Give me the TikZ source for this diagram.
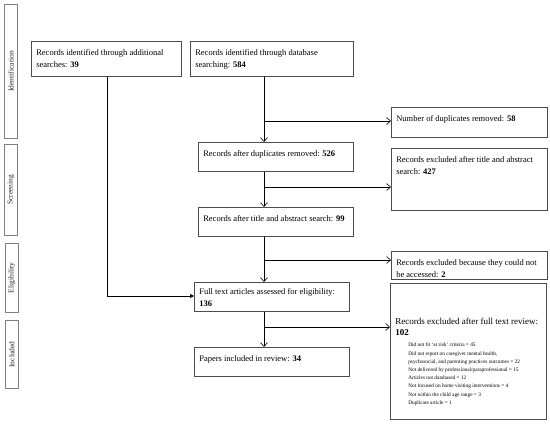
\documentclass[tikz,border=0pt]{standalone}
\usepackage{fontspec}
\setmainfont{Liberation Serif}
\usetikzlibrary{arrows.meta}
\newcommand\bx[7][8]{\node[box,anchor=north west,inner sep=0pt] (#2) at (#3pt,-#4pt) {\parbox[c][#6pt][t]{#5pt}{\vspace*{#1pt}\leftskip=5pt\rightskip=0pt plus 1fil\parindent=0pt #7}};}
\newcommand\side[6]{\node[sidebox,anchor=north west,minimum width=#4pt,minimum height=#5pt] (#1) at (#2pt,-#3pt) {};
\node[sidetext,rotate=90] (#1t) at (#1.center) {#6};}
\tikzset{
  box/.style={draw=black!70,line width=0.6pt,font=\fontsize{8.5}{12.5}\selectfont},
  sidebox/.style={draw=black!50,line width=0.8pt,inner sep=0pt},
  sidetext/.style={text=black!85,font=\fontsize{7.5}{9}\selectfont},
  arr/.style={line width=0.6pt,-{Straight Barb[length=4pt,width=7pt]}},
  farr/.style={line width=0.6pt,-{Triangle[length=4pt,width=4pt]}},
  ln/.style={line width=0.6pt}
}
\begin{document}
\begin{tikzpicture}
\fill[white] (0,0) rectangle (550pt,-424pt);
\useasboundingbox (0,0) rectangle (550pt,-424pt);
% side labels
\side{sid}{4}{4}{13}{134}{Identification}
\side{sscr}{4}{144}{13}{91}{Screening}
\side{selig}{5}{243}{13}{69}{Eligibility}
\side{sinc}{5}{320}{13}{68}{Included}
% boxes
\bx{a}{31}{41}{150}{35}{Records identified through additional\\searches: \textbf{39}}
\bx{b}{190}{41}{163}{35}{Records identified through database\\searching: \textbf{584}}
\bx{dup}{391}{107}{156}{30}{Number of duplicates removed: \textbf{58}}
\bx{c}{198}{142}{155}{29}{Records after duplicates removed: \textbf{526}}
\bx{ex1}{391}{148}{156}{62}{Records excluded after title and abstract\\search: \textbf{427}}
\bx{d}{198}{207}{155}{29}{Records after title and abstract search: \textbf{99}}
\bx{ex2}{391}{251}{156}{28}{Records excluded because they could not\\be accessed: \textbf{2}}
\bx[6]{e}{194}{282}{155}{29}{Full text articles assessed for eligibility:\\\textbf{136}}
\bx{f}{194}{347}{155}{29}{Papers included in review: \textbf{34}}
\bx[35]{ex3}{390}{283}{156}{136}{{\fontsize{9}{11}\selectfont Records excluded after full text review:\\\textbf{102}\par}
\vspace{3pt}
{\fontsize{5.3}{8.2}\selectfont\leftskip=18pt
Did not fit `at risk' criteria = 45\\
Did not report on caregiver mental health,\\
psychosocial, and parenting practices outcomes = 22\\
Not delivered by professional/paraprofessional = 15\\
Articles not databased = 12\\
Not focused on home visiting interventions = 4\\
Not within the child age range = 3\\
Duplicate article = 1\par}}
% junction coordinates
\coordinate (ja) at (107pt,-296pt);
\coordinate (j1) at (264pt,-121pt);
\coordinate (j2) at (264pt,-187pt);
\coordinate (j3) at (264pt,-260pt);
\coordinate (j4) at (264pt,-327pt);
% connectors
\draw[farr] (a.south -| ja) -- (ja) -- (e.west |- ja);
\draw[arr] (b.south -| j1) -- (c.north -| j1);
\draw[arr] (j1) -- (dup.west |- j1);
\draw[arr] (c.south -| j2) -- (d.north -| j2);
\draw[arr] (j2) -- (ex1.west |- j2);
\draw[arr] (d.south -| j3) -- (e.north -| j3);
\draw[arr] (j3) -- (ex2.west |- j3);
\draw[arr] (e.south -| j4) -- (f.north -| j4);
\draw[arr] (j4) -- (ex3.west |- j4);
\end{tikzpicture}
\end{document}
